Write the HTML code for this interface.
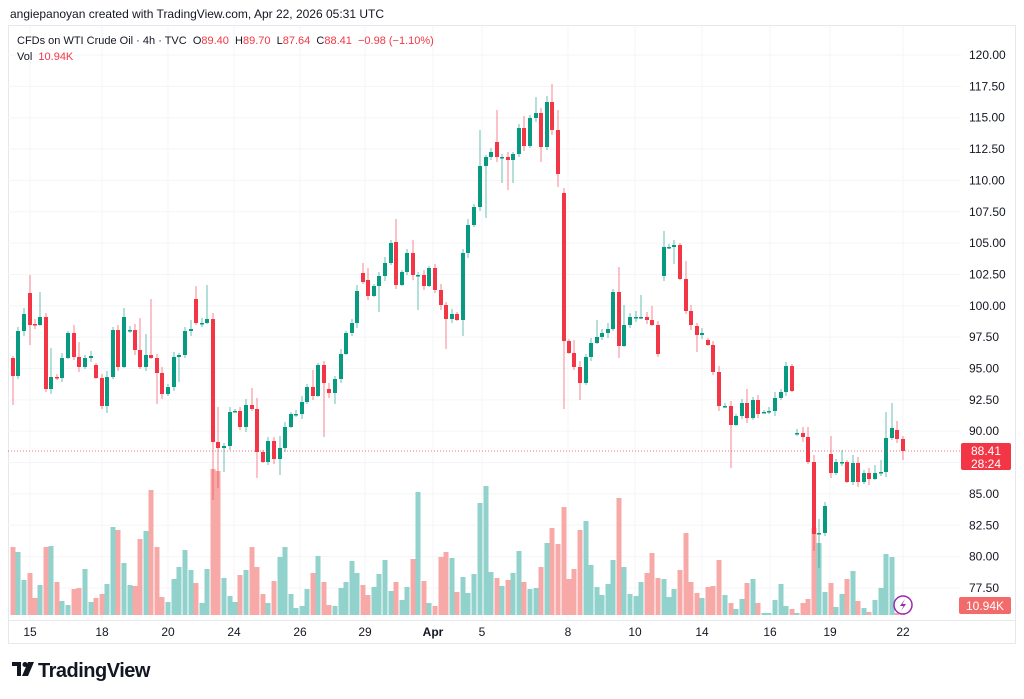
<!DOCTYPE html>
<html><head><meta charset="utf-8"><style>
html,body{margin:0;padding:0;background:#fff;width:1024px;height:699px;overflow:hidden;font-family:"Liberation Sans",sans-serif;}
text{white-space:pre;}
</style></head><body>
<svg id="s" width="1024" height="699" xmlns="http://www.w3.org/2000/svg" style="position:absolute;left:0;top:0">
<rect x="8.5" y="25.5" width="1007" height="618" fill="#fff" stroke="#e6e8ee"/>
<g id="grid"></g>
<g id="vol"></g>
<g id="candles"></g>
<line x1="8" y1="451" x2="961" y2="451" stroke="#f23645" stroke-dasharray="1,2" stroke-width="1" opacity="0.7"/>
<text x="10" y="18" font-size="12" fill="#131722">angiepanoyan created with TradingView.com, Apr 22, 2026 05:31 UTC</text>
<text x="17" y="44" font-size="11" fill="#131722" xml:space="preserve">CFDs on WTI Crude Oil · 4h · TVC  O<tspan fill="#f23645">89.40</tspan>  H<tspan fill="#f23645">89.70</tspan>  L<tspan fill="#f23645">87.64</tspan>  C<tspan fill="#f23645">88.41  −0.98 (−1.10%)</tspan></text>
<text x="17" y="60" font-size="11" fill="#131722" xml:space="preserve">Vol  <tspan fill="#f23645">10.94K</tspan></text>
<g id="axis" font-size="12" fill="#131722"></g>
<rect x="961" y="443" width="50" height="27" rx="2" fill="#f23645"/>
<text x="986" y="455" font-size="12" fill="#fff" text-anchor="middle">88.41</text>
<text x="986" y="468" font-size="12" fill="#fff" text-anchor="middle">28:24</text>
<rect x="959" y="597" width="52" height="17" rx="2" fill="#f26a6a"/>
<text x="985" y="610" font-size="12" fill="#fff" text-anchor="middle">10.94K</text>
<circle cx="903" cy="605" r="9" fill="#fff" stroke="#9c27b0" stroke-width="1.5"/>
<path d="M905 599 L900 606 L903.5 606 L901 611 L906 604 L902.5 604 Z" fill="#9c27b0"/>
<line x1="8" y1="620.5" x2="1015" y2="620.5" stroke="#e6e8ee"/>
<g id="time" font-size="12" fill="#131722" text-anchor="middle"></g>
<g transform="translate(12,662)">
<rect x="0" y="0" width="9" height="4" fill="#131722"/><rect x="5" y="0" width="4" height="14" fill="#131722"/>
<circle cx="13" cy="2.5" r="2.5" fill="#131722"/><path d="M16 0 L22 0 L16 14 L10 14 Z" fill="#131722"/>
</g>
<text x="38" y="677" font-size="20" font-weight="bold" fill="#131722" letter-spacing="-0.5">TradingView</text>
</svg>
<script>
var NS="http://www.w3.org/2000/svg";
function el(p,t,a,txt){var e=document.createElementNS(NS,t);for(var k in a)e.setAttribute(k,a[k]);if(txt!==undefined)e.textContent=txt;document.getElementById(p).appendChild(e);return e;}
for(var k=0;k<=17;k++){var y=55+k*31.35;var p=(120-2.5*k).toFixed(2);
 el("grid","line",{x1:8,y1:y,x2:961,y2:y,stroke:"#f4f5f8"});
 el("axis","text",{x:969,y:y+4},p);}
var T=[[30,"15"],[102,"18"],[168,"20"],[234,"24"],[300,"26"],[365,"29"],[433,"Apr"],[482,"5"],[568,"8"],[635,"10"],[702,"14"],[770,"16"],[830,"19"],[903,"22"]];
T.forEach(function(t){el("grid","line",{x1:t[0],y1:26,x2:t[0],y2:620,stroke:"#f4f5f8"});
 var e=el("time","text",{x:t[0],y:636},t[1]);if(t[1]=="Apr")e.setAttribute("font-weight","bold");});
var D=[
[13,358,376,0,405],[18,376,331],[24,331,314],[30,293,325,275,345],[35,324,325],[40,325,317,292],[46,317,389],[51,389,377,348],[57,377,378],[62,378,358],[68,358,333],[74,333,357,325],[79,357,367,342],[85,367,358],[91,358,356],[96,365,378],[102,378,406],[107,406,377,0,413],[113,377,330],[118,330,367],[124,367,317,308],[130,330,330],[135,330,350],[140,350,367,318],[146,367,355,334],[151,355,358,299],[157,358,373,0,404],[162,373,394],[168,394,387],[174,387,357],[179,357,355,0,382],[185,355,331],[191,331,329,320],[196,299,323,286],[202,323,323],[207,323,319,285],[213,319,442,313,500],[218,442,448,407,488],[224,448,446,0,472],[230,446,412],[235,411,411],
[240,411,427],[246,427,405],[252,405,409,388],[257,409,452,398,478],[263,452,462],[268,462,441],[274,441,459,437],[280,459,448,436,475],[285,448,427],[291,427,414],[296,414,414],[302,414,402],[307,402,387],[313,387,396,370],[318,396,365],[324,365,383,0,437],[329,389,393],[335,393,379,0,404],[341,379,354],[346,354,333],[352,333,323],[357,323,291],[363,273,282,263],[368,280,296,268],[374,296,286],[379,286,276,0,312],[385,276,263],[391,263,243],[396,242,285,219],[402,285,272],[407,272,253],[413,253,275,240],[418,275,275,0,310],[424,275,286],[429,286,268],[435,268,290,264],[441,290,305],[446,305,319,0,349],[452,319,314],[457,314,320],[463,320,253,0,336],[468,253,225],
[474,225,207],[480,207,166,130],[486,166,157,0,218],[491,157,152],[497,142,157,110],[502,157,157,0,183],[508,157,160,0,190],[513,160,154,0,183],[519,154,128],[524,128,146,116],[530,146,118],[536,118,113,97],[541,113,147,108,162],[547,147,102,96],[552,102,130,84],[558,130,174,110,187],[564,193,341,188,409],[569,341,353],[574,353,367,340],[580,367,383,0,400],[586,383,357],[591,357,343],[597,343,337,320],[602,337,333],[608,333,329],[613,329,292],[619,292,346,267,358],[624,346,325,305],[630,325,317],[636,317,317],[641,317,317,295],[647,317,320,312],[652,320,325,306],[658,325,354],[664,276,247,231],[669,247,247],[674,247,245,0,264],[680,245,279],[686,279,311,261],[691,311,325],[697,326,335,0,352],[702,335,333],
[708,340,345],[713,345,372],[719,372,406],[725,406,406],[731,406,425,0,468],[736,425,416],[742,416,403],[747,403,418,389],[753,418,400],[758,400,414],[764,412,412],[769,411,411],[775,411,398],[781,398,392],[786,392,366,362],[792,366,391],[797,433,433],[803,433,437],[808,437,462,427],[814,462,534,455,551],[819,534,533,519,568],[825,533,506],[831,454,473,436],[836,473,462],[842,462,462,450],[847,462,482],[853,482,463,455],[858,463,482],[864,482,473],[869,473,479,0,485],[875,479,473,465],[881,473,472,460],[886,472,438,412],[892,438,428,403],[897,430,439,421],[903,439,451,436,460]];
var V=[547,552,580,573,598,585,547,546,582,601,605,589,588,569,602,598,594,584,527,530,563,585,586,539,531,490,547,597,602,579,567,550,570,583,603,569,469,471,578,596,602,
575,570,547,567,594,603,581,557,547,594,608,606,589,573,556,582,605,606,588,582,561,573,585,595,587,574,560,591,582,600,587,559,492,581,603,606,557,552,558,592,577,593,
574,503,486,572,578,586,580,573,551,582,589,588,567,543,528,544,507,579,569,530,521,565,587,595,584,560,498,567,594,596,582,573,553,578,579,597,589,570,533,582,593,598,
587,586,560,595,603,609,599,583,579,603,613,613,600,584,606,609,613,603,599,528,543,592,583,607,594,579,571,601,608,612,600,588,554,557,613,612];
D.forEach(function(d,i){var x=d[0],o=d[1],c=d[2];var up=c<=o;var col=up?"#089981":"#f23645";
 var top=Math.min(o,c),bot=Math.max(o,c);var ext=2+(i*7%5);
 var h=d[3]||top-ext, l=d[4]||bot+ext-1;
 el("candles","line",{x1:x,y1:h,x2:x,y2:l,stroke:col,"stroke-width":1,opacity:0.6});
 el("candles","rect",{x:x-2,y:top,width:4,height:Math.max(bot-top,1.5),fill:col});
 var v=V[i]; if(v!==undefined) el("vol","rect",{x:x-2.5,y:v,width:5,height:615-v,fill:up?"#92d2cc":"#f7a9a7"});
});
</script>
</body></html>
